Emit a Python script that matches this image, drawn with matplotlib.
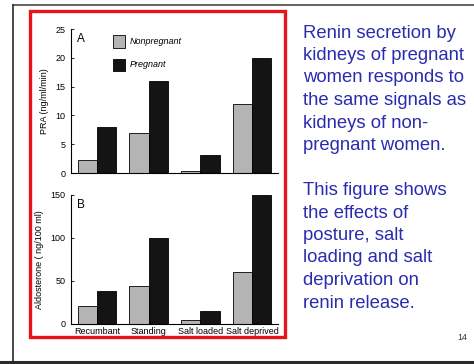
import matplotlib
matplotlib.use("Agg")
import matplotlib.pyplot as plt
import matplotlib.patches as patches
from matplotlib.lines import Line2D
import numpy as np

plt.rcParams['font.family'] = ['Liberation Sans', 'DejaVu Sans']

# data
conditions = ["Recumbant", "Standing", "Salt loaded", "Salt deprived"]
pra_nonpreg = [2.2, 7.0, 0.4, 12.0]
pra_preg = [8.0, 16.0, 3.2, 20.0]
aldo_nonpreg = [21, 44, 5, 60]
aldo_preg = [38, 100, 15, 150]

slide_lines = [
    "Renin secretion by",
    "kidneys of pregnant",
    "women responds to",
    "the same signals as",
    "kidneys of non-",
    "pregnant women.",
    "",
    "This figure shows",
    "the effects of",
    "posture, salt",
    "loading and salt",
    "deprivation on",
    "renin release.",
]

gray = "#b4b4b4"
black = "#141414"
blue = "#2b2bb0"

fig = plt.figure(figsize=(4.74, 3.64), dpi=100)

x = np.arange(len(conditions))
w = 0.37

def draw_panel(ax, nonpreg, preg, ymax, yticks, ylabel, letter):
    ax.bar(x - w / 2, nonpreg, w, color=gray, edgecolor="black", linewidth=0.6)
    ax.bar(x + w / 2, preg, w, color=black, edgecolor="black", linewidth=0.6)
    ax.set_xlim(-0.5, 3.5)
    ax.set_ylim(0, ymax)
    ax.set_yticks(yticks)
    ax.spines["top"].set_visible(False)
    ax.spines["right"].set_visible(False)
    ax.spines["left"].set_linewidth(0.8)
    ax.spines["bottom"].set_linewidth(0.8)
    ax.tick_params(axis="y", labelsize=6.5, length=2.5, width=0.6, pad=4,
                   direction="in")
    ax.set_ylabel(ylabel, fontsize=6.5, labelpad=5)
    ax.text(0.03, 0.97, letter, transform=ax.transAxes, fontsize=8.5,
            va="top", ha="left")

# panel A
ax1 = fig.add_axes([0.1498, 0.5247, 0.4367, 0.3956])
draw_panel(ax1, pra_nonpreg, pra_preg, 25, [0, 5, 10, 15, 20, 25],
           "PRA (ng/ml/min)", "A")
ax1.set_xticks([])

# legend boxes
for i, (c, lab) in enumerate([(gray, "Nonpregnant"), (black, "Pregnant")]):
    yy = 0.955 - i * 0.16
    ax1.add_patch(patches.Rectangle((0.205, yy - 0.085), 0.058, 0.085,
                                    transform=ax1.transAxes, facecolor=c,
                                    edgecolor="black", linewidth=0.6,
                                    clip_on=False))
    ax1.text(0.285, yy - 0.042, lab, transform=ax1.transAxes, fontsize=6.5,
             style="italic", va="center", ha="left")

# panel B
ax2 = fig.add_axes([0.1498, 0.1099, 0.4367, 0.3544])
draw_panel(ax2, aldo_nonpreg, aldo_preg, 150, [0, 50, 100, 150],
           "Aldosterone ( ng/100 ml)", "B")
ax2.set_xticks(x)
ax2.set_xticklabels(conditions, fontsize=6.5)
ax2.tick_params(axis="x", length=0, pad=2)

# red frame around the figure
fig.add_artist(patches.Rectangle((0.0633, 0.0742), 0.538, 0.8956,
                                 transform=fig.transFigure, fill=False,
                                 edgecolor="#e8141c", linewidth=2.4))

# slide border
fig.add_artist(Line2D([0.0274, 1.0], [0.986, 0.986], color="#555555", lw=1.3))
fig.add_artist(Line2D([0.0274, 0.0274], [0.006, 0.986], color="#3a3a3a", lw=1.3))
fig.add_artist(Line2D([0.0, 1.0], [0.006, 0.006], color="#2a2a2a", lw=2.2))

# slide text
y0 = 1 - 33 / 364
step = 22.5 / 364
for i, line in enumerate(slide_lines):
    if line:
        fig.text(303 / 474, y0 - i * step, line, fontsize=13.3, color=blue,
                 va="center", ha="left")

fig.text(457 / 474, 1 - 338 / 364, "14", fontsize=6.5, color="#333333",
         va="center", ha="left")

plt.savefig("out.png", dpi=100)
